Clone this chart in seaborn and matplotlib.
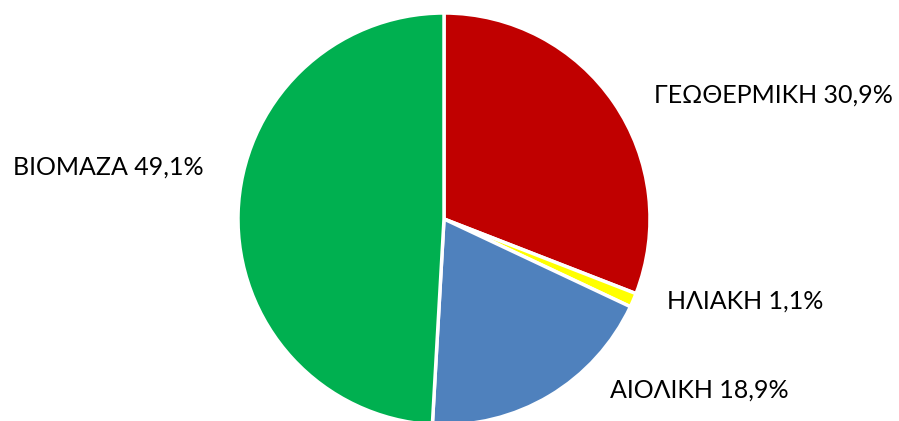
import matplotlib
matplotlib.use("Agg")
import matplotlib.pyplot as plt
import seaborn as sns

# Share of renewable sources (clockwise from the top)
sources = ["ΓΕΩΘΕΡΜΙΚΗ", "ΗΛΙΑΚΗ", "ΑΙΟΛΙΚΗ", "ΒΙΟΜΑΖΑ"]
shares = [30.9, 1.1, 18.9, 49.1]
colors = ["#C00000", "#FFFF00", "#4F81BD", "#00B050"]

# label anchor points, in pie-radius units (layout only)
label_pos = [(1.60, 0.60), (1.46, -0.40), (1.24, -0.83), (-1.63, 0.25)]

sns.set_theme(style="white")
plt.rcParams["font.family"] = ["Lato", "DejaVu Sans"]

fig = plt.figure(figsize=(8.99, 4.21), dpi=100)
ax = fig.add_axes([0, 0, 1, 1])

ax.pie(shares, colors=colors, startangle=90, counterclock=False,
       wedgeprops=dict(edgecolor="white", linewidth=2.5))

for name, val, (x, y) in zip(sources, shares, label_pos):
    txt = f"{name} {val:.1f}%".replace(".", ",")
    ax.text(x, y, txt, ha="center", va="center", fontsize=18, color="black")

# pie centre at (444, 219) px, radius 206 px
r = 206
ax.set_xlim(-444 / r, (899 - 444) / r)
ax.set_ylim(-(421 - 219) / r, 219 / r)
ax.set_aspect("auto")
ax.axis("off")

fig.savefig("out.png", dpi=100)
